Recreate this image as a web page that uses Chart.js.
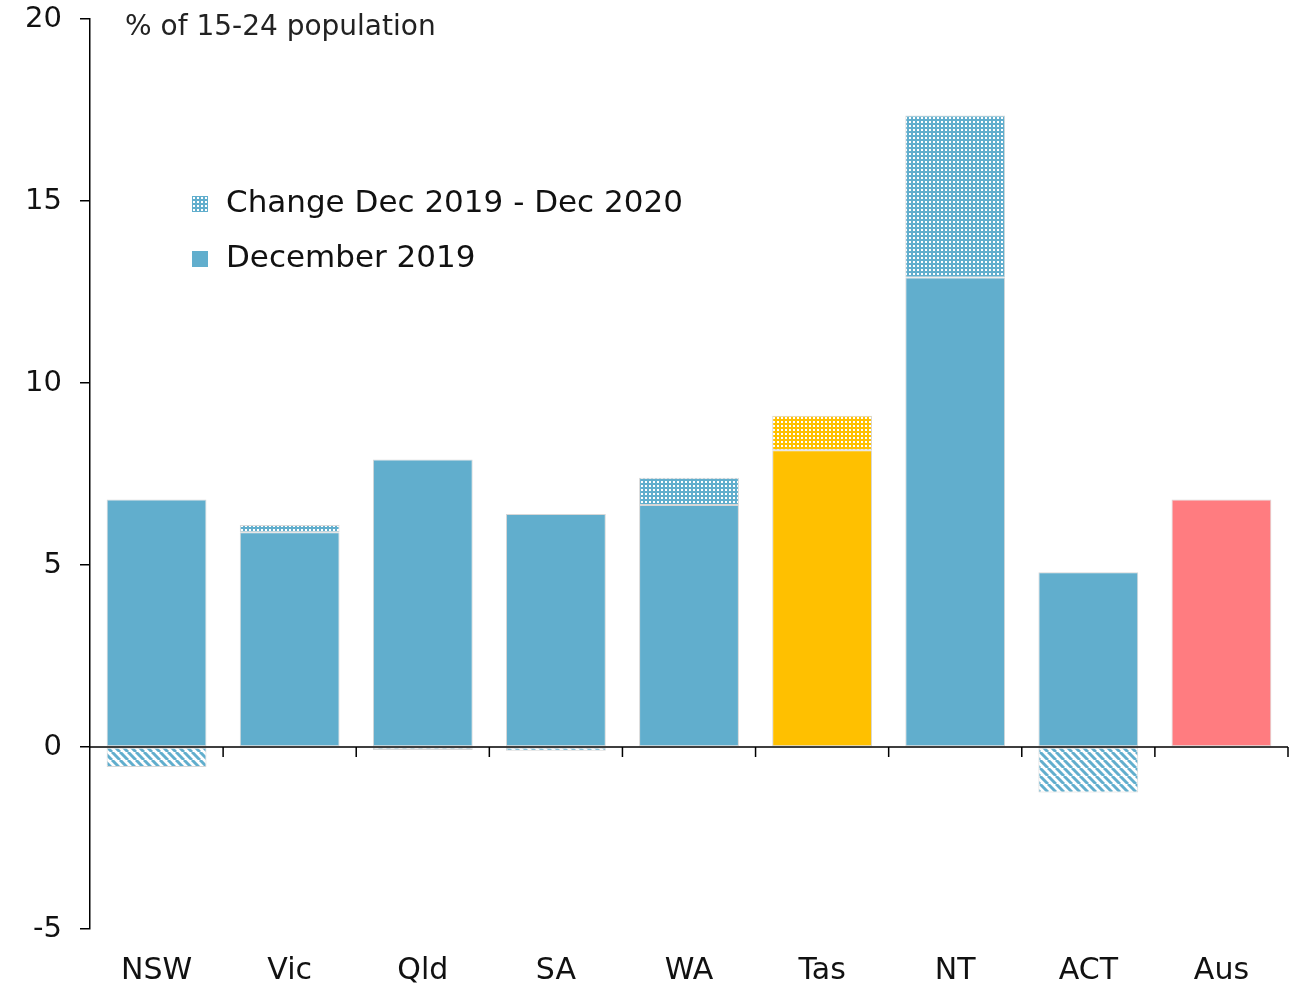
<!DOCTYPE html>
<html>
<head>
<meta charset="utf-8">
<script src="https://cdn.jsdelivr.net/npm/chart.js@4/dist/chart.umd.min.js"></script>
<style>
  html, body { margin: 0; padding: 0; background: #fff; }
  #wrap { width: 1299px; height: 986px; }
</style>
</head>
<body>
<div id="wrap"><canvas id="myChart" width="1299" height="986"></canvas></div>
<script>
const states = ['NSW', 'Vic', 'Qld', 'SA', 'WA', 'Tas', 'NT', 'ACT', 'Aus'];
const dec2019 = [6.8, 5.9, 7.9, 6.4, 6.65, 8.15, 12.9, 4.8, 6.8];
const change = [-0.55, 0.2, -0.08, -0.1, 0.75, 0.95, 4.45, -1.25, null];
const yTicks = [-5, 0, 5, 10, 15, 20];

const colors = {
  blue: 'rgb(97, 174, 205)',
  yellow: 'rgb(255, 192, 0)',
  pink: 'rgb(255, 124, 128)',
  edge: 'rgb(215, 215, 215)'
};
const FONT = "'DejaVu Sans', sans-serif";

// small dotted fill
function dotPattern(color) {
  const c = document.createElement('canvas');
  c.width = 4; c.height = 4;
  const g = c.getContext('2d');
  g.fillStyle = color;
  g.fillRect(0, 0, 4, 4);
  g.fillStyle = '#fff';
  g.fillRect(1, 1, 2, 2);
  return g.createPattern(c, 'repeat');
}

// diagonal stripes for falls
function stripePattern(color) {
  const s = 8;
  const c = document.createElement('canvas');
  c.width = s; c.height = s;
  const g = c.getContext('2d');
  g.fillStyle = '#fff';
  g.fillRect(0, 0, s, s);
  g.strokeStyle = color;
  g.lineWidth = 3;
  for (let k = -1; k <= 1; k++) {
    g.beginPath();
    g.moveTo(k * s, 0);
    g.lineTo(k * s + s, s);
    g.stroke();
  }
  return g.createPattern(c, 'repeat');
}

const baseColors = states.map(s => s === 'Tas' ? colors.yellow : (s === 'Aus' ? colors.pink : colors.blue));
const changeColors = change.map((v, i) => {
  if (states[i] === 'Tas') return dotPattern(colors.yellow);
  return v < 0 ? stripePattern(colors.blue) : dotPattern(colors.blue);
});

const extras = {
  id: 'extras',
  afterDraw(chart) {
    const ctx = chart.ctx;
    const y = chart.scales.y;
    const y0 = y.getPixelForValue(0);
    ctx.save();
    // zero line with category ticks below
    ctx.strokeStyle = '#000';
    ctx.lineWidth = 1.5;
    ctx.beginPath();
    ctx.moveTo(chart.chartArea.left, y0);
    ctx.lineTo(chart.chartArea.right, y0);
    const step = (chart.chartArea.right - chart.chartArea.left) / states.length;
    for (let i = 1; i <= states.length; i++) {
      const px = chart.chartArea.left + step * i;
      ctx.moveTo(px, y0);
      ctx.lineTo(px, y0 + 10);
    }
    ctx.stroke();

    // unit label
    ctx.fillStyle = '#222';
    ctx.font = '28px ' + FONT;
    ctx.textBaseline = 'middle';
    ctx.textAlign = 'left';
    ctx.fillText('% of 15-24 population', 125, 28);

    // legend
    const items = [
      { text: 'Change Dec 2019 - Dec 2020', fill: dotPattern(colors.blue), y: 204 },
      { text: 'December 2019', fill: colors.blue, y: 259 }
    ];
    ctx.font = '31px ' + FONT;
    items.forEach(it => {
      ctx.fillStyle = it.fill;
      ctx.fillRect(192, it.y - 8, 16, 16);
      ctx.fillStyle = '#111';
      ctx.fillText(it.text, 226, it.y);
    });
    ctx.restore();
  }
};

const ctx = document.getElementById('myChart').getContext('2d');
const myChart = new Chart(ctx, {
  type: 'bar',
  data: {
    labels: states,
    datasets: [{
      label: 'December 2019',
      data: dec2019,
      backgroundColor: baseColors,
      borderColor: colors.edge,
      borderWidth: 1,
      borderSkipped: false
    }, {
      label: 'Change Dec 2019 - Dec 2020',
      data: change,
      backgroundColor: changeColors,
      borderColor: colors.edge,
      borderWidth: 1,
      borderSkipped: false
    }]
  },
  options: {
    responsive: false,
    animation: false,
    layout: { padding: { top: 19, right: 11, bottom: 0, left: 0 } },
    datasets: { bar: { barPercentage: 0.75, categoryPercentage: 1.0 } },
    scales: {
      x: {
        stacked: true,
        grid: { display: false },
        border: { display: false },
        ticks: { color: '#111', font: { family: FONT, size: 30 }, padding: 16 },
        afterFit(scale) { scale.height = 57; }
      },
      y: {
        stacked: true,
        min: -5,
        max: 20,
        afterBuildTicks(scale) { scale.ticks = yTicks.map(v => ({ value: v })); },
        grid: { drawOnChartArea: false, drawTicks: true, tickLength: 10, color: '#000', lineWidth: 1.5 },
        border: { display: true, color: '#000', width: 1.5 },
        ticks: { color: '#111', font: { family: FONT, size: 29 }, padding: 18 },
        afterFit(scale) {
          scale.width = 90;
          scale.paddingTop = 0;
          scale.paddingBottom = 0;
        }
      }
    },
    plugins: {
      legend: { display: false },
      tooltip: { enabled: false }
    }
  },
  plugins: [extras]
});
</script>
</body>
</html>
